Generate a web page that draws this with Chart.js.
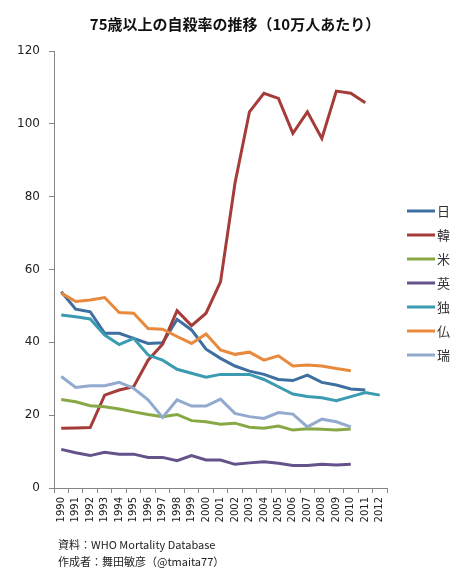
<!DOCTYPE html>
<html>
<head>
<meta charset="utf-8">
<script src="https://cdn.jsdelivr.net/npm/chart.js@4.4.0/dist/chart.umd.min.js"></script>
<style>
  html, body { margin: 0; padding: 0; background: #fff; }
  #wrap { width: 470px; height: 584px; position: relative; }
</style>
</head>
<body>
<div id="wrap"><canvas id="myChart"></canvas></div>
<script>
// years on the x axis
const years = ['1990','1991','1992','1993','1994','1995','1996','1997','1998','1999','2000',
               '2001','2002','2003','2004','2005','2006','2007','2008','2009','2010','2011','2012'];

// suicide rate of 75+ per 100k
const japan   = [53.9, 49.1, 48.4, 42.5, 42.5, 41.1, 39.7, 39.9, 46.3, 43.4, 38.1, 35.6, 33.5, 32.1, 31.2, 29.8, 29.5, 31.0, 29.0, 28.3, 27.2, 26.9, null];
const korea   = [16.4, 16.5, 16.6, 25.5, 26.9, 27.8, 35.1, 39.5, 48.7, 44.6, 48.0, 56.6, 83.7, 103.3, 108.4, 107.0, 97.4, 103.3, 96.0, 109.0, 108.4, 105.8, null];
const usa     = [24.3, 23.7, 22.6, 22.3, 21.7, 20.9, 20.2, 19.6, 20.2, 18.5, 18.2, 17.5, 17.8, 16.7, 16.4, 17.0, 15.9, 16.3, 16.1, 15.9, 16.2, null, null];
const uk      = [10.6, 9.7, 8.9, 9.8, 9.3, 9.3, 8.4, 8.4, 7.5, 8.9, 7.7, 7.7, 6.5, 6.9, 7.2, 6.8, 6.2, 6.2, 6.5, 6.3, 6.5, null, null];
const germany = [47.5, 47.0, 46.4, 42.0, 39.4, 41.1, 36.5, 35.1, 32.6, 31.5, 30.4, 31.2, 31.2, 31.2, 29.8, 27.8, 25.8, 25.1, 24.8, 24.0, 25.1, 26.2, 25.5];
const france  = [53.5, 51.2, 51.6, 52.3, 48.2, 48.0, 43.8, 43.6, 41.6, 39.7, 42.3, 37.9, 36.7, 37.3, 35.1, 36.3, 33.5, 33.8, 33.5, 32.8, 32.2, null, null];
const sweden  = [30.6, 27.6, 28.1, 28.1, 29.0, 27.4, 24.2, 19.4, 24.2, 22.5, 22.5, 24.4, 20.5, 19.6, 19.1, 20.7, 20.3, 16.8, 18.9, 18.2, 16.8, null, null];

const seriesNames  = ['日', '韓', '米', '英', '独', '仏', '瑞'];
const seriesValues = [japan, korea, usa, uk, germany, france, sweden];
const seriesColors = ['#3d6fa0', '#a53c39', '#88a846', '#66528a', '#3b9bb1', '#e8893b', '#93aacf'];

const yTicks = [0, 20, 40, 60, 80, 100, 120];

const titleText = '75歳以上の自殺率の推移（10万人あたり）';
const axisColor = '#868686';

// title, legend and source notes drawn after the chart
const notesPlugin = {
    id: 'notes',
    afterDraw(chart) {
        const ctx = chart.ctx;
        const area = chart.chartArea;
        ctx.save();
        // title
        ctx.font = 'bold 15px "Noto Sans CJK JP"';
        ctx.fillStyle = '#111';
        ctx.textAlign = 'center';
        ctx.textBaseline = 'middle';
        ctx.fillText(titleText, 235, 24);
        // legend
        ctx.font = '13px "Noto Sans CJK JP"';
        ctx.textAlign = 'left';
        chart.data.datasets.forEach(function(ds, i){
            var y = 211 + i * 24;
            var x0 = area.right + 20;
            ctx.strokeStyle = ds.borderColor;
            ctx.lineWidth = 3;
            ctx.beginPath();
            ctx.moveTo(x0, y);
            ctx.lineTo(x0 + 28, y);
            ctx.stroke();
            ctx.fillStyle = '#333';
            ctx.fillText(ds.label, x0 + 30, y);
        });
        // source
        ctx.font = '11px "Noto Sans CJK JP"';
        ctx.fillStyle = '#222';
        ctx.fillText('資料：WHO Mortality Database', 58, 545);
        ctx.fillText('作成者：舞田敏彦（@tmaita77）', 58, 562);
        ctx.restore();
    }
};

const ctx = document.getElementById('myChart');
const myChart = new Chart(ctx, {
    type: 'line',
    data: {
        labels: years,
        datasets: seriesNames.map(function(name, i){
            return {
                label: name,
                data: seriesValues[i],
                borderColor: seriesColors[i],
                backgroundColor: seriesColors[i],
                borderWidth: 3,
                pointRadius: 0,
                tension: 0,
                spanGaps: false,
                order: seriesNames.length - i
            };
        })
    },
    options: {
        responsive: true,
        maintainAspectRatio: false,
        animation: false,
        devicePixelRatio: 1,
        layout: { padding: { top: 51, left: 0, right: 83, bottom: 0 } },
        plugins: {
            legend: { display: false },
            tooltip: { enabled: false },
            title: { display: false }
        },
        scales: {
            x: {
                type: 'category',
                offset: true,
                grid: {
                    display: true,
                    drawOnChartArea: false,
                    drawTicks: true,
                    tickLength: 5,
                    offset: true,
                    color: axisColor
                },
                border: { color: axisColor, width: 1 },
                ticks: {
                    minRotation: 90,
                    maxRotation: 90,
                    autoSkip: false,
                    padding: 4,
                    color: '#222',
                    font: { family: '"DejaVu Sans"', size: 10 }
                },
                afterFit: function(scale){ scale.height = 96; }
            },
            y: {
                min: 0,
                max: 120,
                afterBuildTicks: function(scale){
                    scale.ticks = yTicks.map(function(v){ return { value: v }; });
                },
                grid: {
                    display: true,
                    drawOnChartArea: false,
                    drawTicks: true,
                    tickLength: 5,
                    color: axisColor
                },
                border: { color: axisColor, width: 1 },
                ticks: {
                    padding: 9,
                    color: '#222',
                    font: { family: '"DejaVu Sans"', size: 12 }
                },
                afterFit: function(scale){ scale.width = 54; }
            }
        }
    },
    plugins: [notesPlugin]
});
</script>
</body>
</html>
